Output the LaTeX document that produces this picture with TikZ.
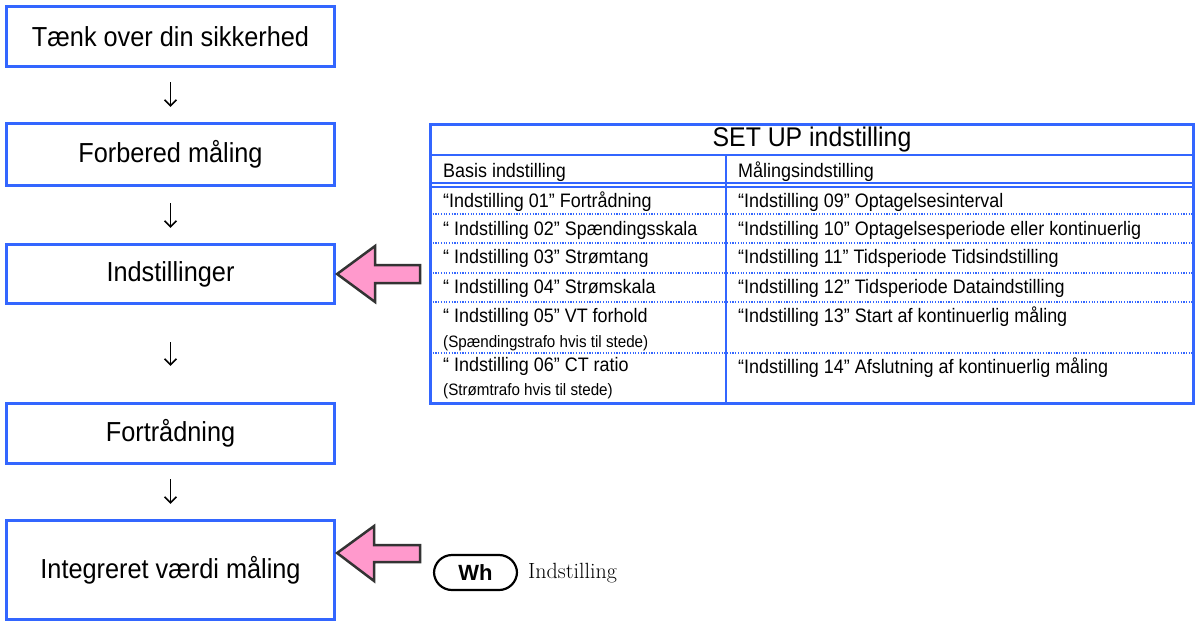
\documentclass[tikz,border=0pt]{standalone}
\usepackage{fontspec}
\usetikzlibrary{arrows.meta}
\newfontfamily\arialn[FakeStretch=0.92]{Liberation Sans}
\newfontfamily\arialb{Liberation Sans}
\definecolor{myblue}{HTML}{3366FF}
\definecolor{mypink}{HTML}{FF99CC}
\definecolor{mygray}{HTML}{333333}
\tikzset{
  flowbox/.style={draw=myblue, line width=3.2pt, minimum width=328pt, inner sep=0pt,
    font=\arialn\fontsize{27.5}{30}\selectfont},
  flowarrow/.style={line width=1.6pt, -{Straight Barb[length=6pt,width=12pt,line width=1.6pt]}},
  pinkarrow/.style={draw=mygray, fill=mypink, line width=2.5pt, line join=miter},
  celltext/.style={anchor=west, inner sep=0pt, font=\arialn\fontsize{19.5}{22}\selectfont},
  smalltext/.style={anchor=west, inner sep=0pt, font=\arialn\fontsize{16.5}{18}\selectfont},
  dotline/.style={draw=myblue, line width=1.1pt, dash pattern=on 1.2pt off 1.5pt},
}
\begin{document}
\begin{tikzpicture}[x=1pt, y=-1pt]
\useasboundingbox (0,0) rectangle (1198,622);
% flow boxes
\node[flowbox, minimum height=60pt] (b1) at (170.5,36.5) {Tænk over din sikkerhed};
\node[flowbox, minimum height=62pt] (b2) at (170.5,154.5) {Forbered måling};
\node[flowbox, minimum height=59pt] (b3) at (170.5,274) {Indstillinger};
\node[flowbox, minimum height=60pt] (b4) at (170.5,433.5) {Fortrådning};
\node[flowbox, minimum height=99pt] (b5) at (170.5,570) {Integreret værdi måling};
% down arrows
\draw[flowarrow] ([yshift=-14pt]b1.south) -- ([yshift=15pt]b2.north);
\draw[flowarrow] ([yshift=-16pt]b2.south) -- ([yshift=15pt]b3.north);
\draw[flowarrow] ([yshift=-37pt]b3.south) -- ([yshift=36pt]b4.north);
\draw[flowarrow] ([yshift=-14pt]b4.south) -- ([yshift=15pt]b5.north);
% pink arrows
\draw[pinkarrow] ([xshift=1pt]b3.east) -- ++(38,-28) -- ++(0,19) -- ++(45,0) -- ++(0,18) -- ++(-45,0) -- ++(0,19) -- cycle;
\draw[pinkarrow] ([xshift=1pt,yshift=17pt]b5.east) -- ++(37,-27) -- ++(0,19) -- ++(46,0) -- ++(0,17) -- ++(-46,0) -- ++(0,19) -- cycle;
% Wh key
\node[draw=black, line width=2.2pt, rounded corners=18pt, minimum width=83pt, minimum height=35pt,
  inner sep=0pt, font=\arialb\bfseries\fontsize{22}{24}\selectfont] (wh) at (475.5,572.5) {Wh};
\node[anchor=west, inner sep=0pt, font=\fontsize{22}{24}\selectfont] (whl) at (528,573) {Indstilling};
% table
\coordinate (tl) at (430.5,124.5);
\coordinate (br) at (1193.5,403.5);
\draw[dotline] (430,214) -- (1194,214);
\draw[dotline] (430,243) -- (1194,243);
\draw[dotline] (430,273) -- (1194,273);
\draw[dotline] (430,302) -- (1194,302);
\draw[dotline] (430,353) -- (1194,353);
\draw[myblue, line width=2pt] (430,155) -- (1194,155);
\draw[myblue, line width=1.5pt] (430,183) -- (1194,183);
\draw[myblue, line width=1.5pt] (430,187) -- (1194,187);
\draw[myblue, line width=2pt] (726,155) -- (726,404);
\draw[myblue, line width=3pt] (tl) rectangle (br);
\node[inner sep=0pt, font=\arialn\fontsize{27}{30}\selectfont] (title) at (812,140) {SET UP indstilling};
\node[celltext] (h1) at (443,172) {Basis indstilling};
\node[celltext] (h2) at (738,172) {Målingsindstilling};
\node[celltext] (l1) at (443,202) {“Indstilling 01” Fortrådning};
\node[celltext] (l2) at (443,230) {“ Indstilling 02” Spændingsskala};
\node[celltext] (l3) at (443,258) {“ Indstilling 03” Strømtang};
\node[celltext] (l4) at (443,288) {“ Indstilling 04” Strømskala};
\node[celltext] (l5) at (443,317) {“ Indstilling 05” VT forhold};
\node[smalltext] (l5b) at (443,343) {(Spændingstrafo hvis til stede)};
\node[celltext] (l6) at (443,366) {“ Indstilling 06” CT ratio};
\node[smalltext] (l6b) at (443,391) {(Strømtrafo hvis til stede)};
\node[celltext] (r1) at (738,202) {“Indstilling 09” Optagelsesinterval};
\node[celltext] (r2) at (738,230) {“Indstilling 10” Optagelsesperiode eller kontinuerlig};
\node[celltext] (r3) at (738,258) {“Indstilling 11” Tidsperiode Tidsindstilling};
\node[celltext] (r4) at (738,288) {“Indstilling 12” Tidsperiode Dataindstilling};
\node[celltext] (r5) at (738,317) {“Indstilling 13” Start af kontinuerlig måling};
\node[celltext] (r6) at (738,368) {“Indstilling 14” Afslutning af kontinuerlig måling};
\end{tikzpicture}
\end{document}
